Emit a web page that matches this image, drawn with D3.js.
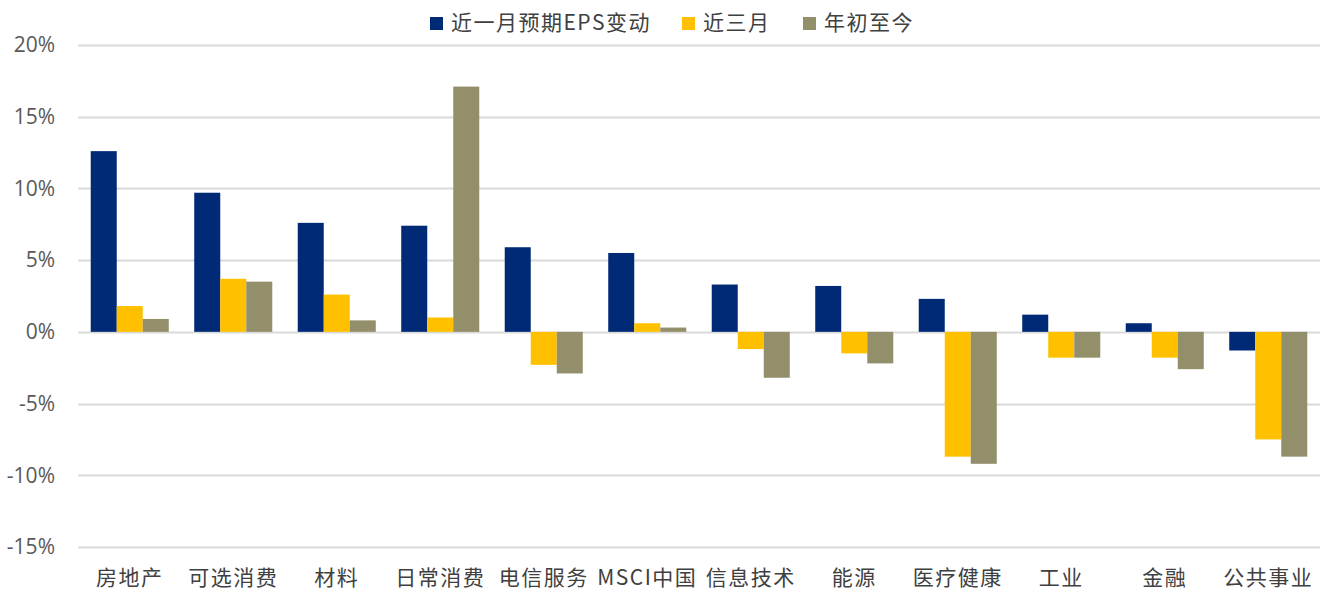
<!DOCTYPE html>
<html>
<head>
<meta charset="utf-8">
<script src="https://cdn.jsdelivr.net/npm/d3@7"></script>
<style>
    body { margin: 0; background: #ffffff; }
    svg { display: block; }
</style>
</head>
<body>
<svg id="chart"></svg>
<script>
let categories = ["房地产", "可选消费", "材料", "日常消费", "电信服务", "MSCI中国", "信息技术", "能源", "医疗健康", "工业", "金融", "公共事业"];
let series_names = ["近一月预期EPS变动", "近三月", "年初至今"];
let month_1 = [12.6, 9.7, 7.6, 7.4, 5.9, 5.5, 3.3, 3.2, 2.3, 1.2, 0.6, -1.3];
let month_3 = [1.8, 3.7, 2.6, 1.0, -2.3, 0.6, -1.2, -1.5, -8.7, -1.8, -1.8, -7.5];
let ytd = [0.9, 3.5, 0.8, 17.1, -2.9, 0.3, -3.2, -2.2, -9.2, -1.8, -2.6, -8.7];
let y_ticks = [20, 15, 10, 5, 0, -5, -10, -15];

let colors = ["#002A75", "#FFC000", "#948F6B"];

let width = 1333;
let height = 592;
let margin = {top: 45, right: 13, bottom: 45, left: 78};

let svg = d3.select("#chart")
    .attr("width", width)
    .attr("height", height);

let rows = categories.map(function(c, i) {
    return {name: c, values: [month_1[i], month_3[i], ytd[i]]};
});

let x = d3.scaleBand()
    .domain(categories)
    .range([margin.left, width - margin.right])
    .paddingInner(0.246)
    .paddingOuter(0.123);

let x_inner = d3.scaleBand()
    .domain([0, 1, 2])
    .range([0, x.bandwidth()]);

let y = d3.scaleLinear()
    .domain([-15, 20])
    .range([height - margin.bottom, margin.top]);

// gridlines
svg.append("g")
    .attr("class", "grid")
    .selectAll("line")
    .data(y_ticks)
    .enter().append("line")
    .attr("x1", margin.left)
    .attr("x2", width - margin.right)
    .attr("y1", function(d) { return Math.round(y(d)) + 0.5; })
    .attr("y2", function(d) { return Math.round(y(d)) + 0.5; })
    .attr("stroke", "#D9D9D9")
    .attr("stroke-width", 2);

// y axis labels
let y_axis = d3.axisLeft(y)
    .tickValues(y_ticks)
    .tickSize(0)
    .tickPadding(0)
    .tickFormat(function(d) { return d + "%"; });

svg.append("g")
    .attr("transform", "translate(55,0)")
    .call(y_axis)
    .call(function(g) { g.select(".domain").remove(); })
    .selectAll("text")
    .attr("fill", "#595959")
    .style("font-family", "'Liberation Sans Narrow', 'Open Sans', sans-serif")
    .style("font-size", "21px");

// bars
let groups = svg.append("g")
    .attr("class", "bars")
    .selectAll("g")
    .data(rows)
    .enter().append("g")
    .attr("transform", function(d) { return "translate(" + x(d.name) + ",0)"; });

groups.selectAll("rect")
    .data(function(d) { return d.values.map(function(v, k) { return {k: k, v: v}; }); })
    .enter().append("rect")
    .attr("x", function(d) { return x_inner(d.k); })
    .attr("width", x_inner.bandwidth())
    .attr("y", function(d) { return y(Math.max(0, d.v)); })
    .attr("height", function(d) { return Math.abs(y(d.v) - y(0)); })
    .attr("fill", function(d) { return colors[d.k]; });

// category labels
let x_axis = d3.axisBottom(x)
    .tickSize(0)
    .tickPadding(0);

svg.append("g")
    .attr("transform", "translate(0,570)")
    .call(x_axis)
    .call(function(g) { g.select(".domain").remove(); })
    .selectAll("text")
    .attr("fill", "#404040")
    .style("font-family", "'Noto Sans CJK SC', sans-serif")
    .style("font-size", "21px")
    .style("letter-spacing", "1.5px");

// legend
let legend_x = [430, 682, 803];
let legend = svg.append("g")
    .attr("class", "legend")
    .selectAll("g")
    .data(series_names)
    .enter().append("g")
    .attr("transform", function(d, i) { return "translate(" + legend_x[i] + ",0)"; });

legend.append("rect")
    .attr("x", 0)
    .attr("y", 17)
    .attr("width", 13)
    .attr("height", 13)
    .attr("fill", function(d, i) { return colors[i]; });

legend.append("text")
    .text(function(d) { return d; })
    .attr("x", 21)
    .attr("y", 24)
    .attr("dominant-baseline", "middle")
    .attr("fill", "#404040")
    .style("font-family", "'Noto Sans CJK SC', sans-serif")
    .style("font-size", "21px")
    .style("letter-spacing", "1.5px");
</script>
</body>
</html>
